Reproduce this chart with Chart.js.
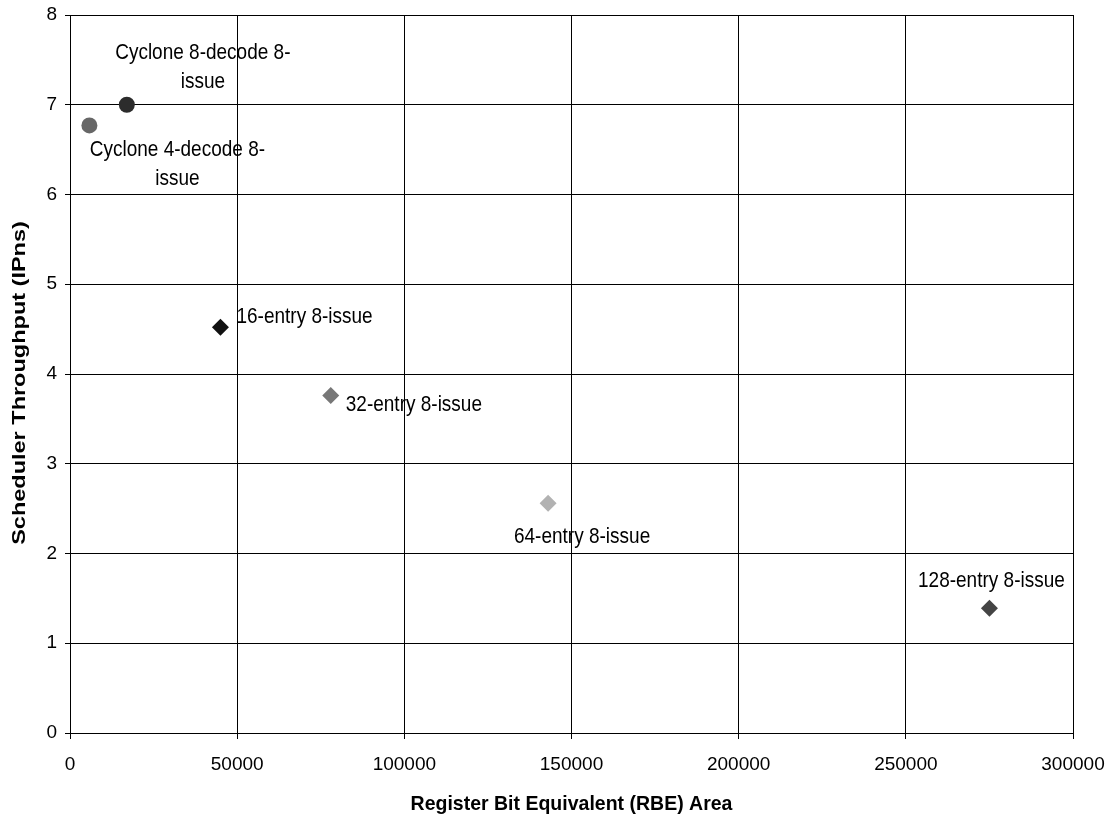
<!DOCTYPE html>
<html>
<head>
<meta charset="utf-8">
<title>Scheduler Throughput vs RBE Area</title>
<script src="https://cdn.jsdelivr.net/npm/chart.js@4/dist/chart.umd.min.js"></script>
<style>
  html, body { margin: 0; padding: 0; background: #fff; }
  #wrap { width: 1115px; height: 820px; }
</style>
</head>
<body>
<div id="wrap"><canvas id="c" width="1115" height="820"></canvas></div>
<script>
// Scheduler designs and their measured figures
const designs = [
  'Cyclone 4-decode 8-issue',
  'Cyclone 8-decode 8-issue',
  '16-entry 8-issue',
  '32-entry 8-issue',
  '64-entry 8-issue',
  '128-entry 8-issue'
];
const rbeArea = [5800, 17000, 45000, 78000, 143000, 275000];
const throughputIPns = [6.77, 7.0, 4.52, 3.76, 2.56, 1.39];
const xTicks = [0, 50000, 100000, 150000, 200000, 250000, 300000];
const yTicks = [0, 1, 2, 3, 4, 5, 6, 7, 8];
const xTitle = 'Register Bit Equivalent (RBE) Area';
const yTitle = 'Scheduler Throughput (IPns)';

// Marker styling per design
const markerColors = ['#676767', '#2c2c2c', '#111111', '#777777', '#b2b2b2', '#444444'];
const markerShapes = ['circle', 'circle', 'rectRot', 'rectRot', 'rectRot', 'rectRot'];
const markerRadius = [8, 8, 8.5, 8.5, 8.5, 8.5];

// Label placement relative to each marker: dx, dy (px), text alignment
const labelPlacement = [
  { dx: 88, dy: 39, align: 'center' },
  { dx: 76, dy: -37, align: 'center' },
  { dx: 16, dy: -10, align: 'left' },
  { dx: 15, dy: 9, align: 'left' },
  { dx: 34, dy: 34, align: 'center' },
  { dx: 2, dy: -27, align: 'center' }
];

const FONT = '"Liberation Sans", Arial, sans-serif';

// Wrap a label by breaking after spaces or hyphens
function wrapLabel(ctx, text, maxWidth) {
  const tokens = text.match(/[^\s-]+-?\s?|\s/g) || [text];
  const lines = [];
  let cur = '';
  for (const t of tokens) {
    const test = cur + t;
    if (cur && ctx.measureText(test.trimEnd()).width > maxWidth) {
      lines.push(cur.trimEnd());
      cur = t;
    } else {
      cur = test;
    }
  }
  if (cur) lines.push(cur.trimEnd());
  return lines;
}

// Text drawn with a slight vertical stretch (tall, narrow lettering)
function tallText(ctx, text, x, y, sy) {
  ctx.save();
  ctx.translate(x, y);
  ctx.scale(1, sy);
  ctx.fillText(text, 0, 0);
  ctx.restore();
}

const pointLabels = {
  id: 'pointLabels',
  afterDatasetsDraw(chart) {
    const { ctx } = chart;
    const meta = chart.getDatasetMeta(0);
    ctx.save();
    ctx.font = '19px ' + FONT;
    ctx.fillStyle = '#000';
    ctx.textBaseline = 'middle';
    meta.data.forEach((pt, i) => {
      const p = labelPlacement[i];
      const lines = wrapLabel(ctx, designs[i], 190);
      const lh = 29;
      const cx = pt.x + p.dx;
      const cy = pt.y + p.dy;
      ctx.textAlign = p.align;
      lines.forEach((ln, k) => {
        tallText(ctx, ln, cx, cy + (k - (lines.length - 1) / 2) * lh, 1.15);
      });
    });
    ctx.restore();
  }
};

const axisTitles = {
  id: 'axisTitles',
  afterDraw(chart) {
    const { ctx, chartArea: a } = chart;
    ctx.save();
    ctx.fillStyle = '#000';
    ctx.textAlign = 'center';
    ctx.textBaseline = 'middle';
    ctx.font = 'bold 19.5px ' + FONT;
    tallText(ctx, xTitle, (a.left + a.right) / 2, 804, 1.07);
    ctx.font = 'bold 18.5px ' + FONT;
    ctx.translate(20, 383);
    ctx.rotate(-Math.PI / 2);
    ctx.scale(1.27, 1);
    ctx.fillText(yTitle, 0, 0);
    ctx.restore();
  }
};

const frame = {
  id: 'frame',
  beforeDatasetsDraw(chart) {
    const { ctx, chartArea: a } = chart;
    ctx.save();
    ctx.strokeStyle = '#000';
    ctx.lineWidth = 1;
    ctx.strokeRect(Math.round(a.left) + 0.5, Math.round(a.top) + 0.5,
      Math.round(a.right - a.left), Math.round(a.bottom - a.top));
    ctx.restore();
  }
};

new Chart(document.getElementById('c'), {
  type: 'scatter',
  data: {
    datasets: [{
      label: 'Schedulers',
      data: rbeArea.map((x, i) => ({ x, y: throughputIPns[i] })),
      backgroundColor: markerColors,
      borderColor: markerColors,
      borderWidth: 0,
      pointStyle: markerShapes,
      pointRadius: markerRadius,
      pointHoverRadius: markerRadius
    }]
  },
  options: {
    responsive: false,
    animation: false,
    devicePixelRatio: 1,
    layout: { padding: { top: 15, right: 42, left: 0, bottom: 0 } },
    plugins: {
      legend: { display: false },
      tooltip: { enabled: false }
    },
    scales: {
      x: {
        type: 'linear',
        min: xTicks[0],
        max: xTicks[xTicks.length - 1],
        afterBuildTicks: s => { s.ticks = xTicks.map(v => ({ value: v })); },
        afterFit: s => { s.height = 87; s.paddingLeft = 0; s.paddingRight = 0; },
        grid: { color: '#000', lineWidth: 1, tickLength: 6, tickColor: '#000' },
        border: { color: '#000', width: 1 },
        ticks: {
          color: '#000',
          font: { family: FONT, size: 19 },
          padding: 14,
          maxRotation: 0,
          callback: v => String(v)
        },
        title: { display: false }
      },
      y: {
        type: 'linear',
        min: yTicks[0],
        max: yTicks[yTicks.length - 1],
        afterBuildTicks: s => { s.ticks = yTicks.map(v => ({ value: v })); },
        afterFit: s => { s.width = 70; s.paddingTop = 0; s.paddingBottom = 0; },
        grid: { color: '#000', lineWidth: 1, tickLength: 5, tickColor: '#000' },
        border: { color: '#000', width: 1 },
        ticks: {
          color: '#000',
          font: { family: FONT, size: 19 },
          padding: 8
        },
        title: { display: false }
      }
    }
  },
  plugins: [frame, pointLabels, axisTitles]
});
</script>
</body>
</html>
